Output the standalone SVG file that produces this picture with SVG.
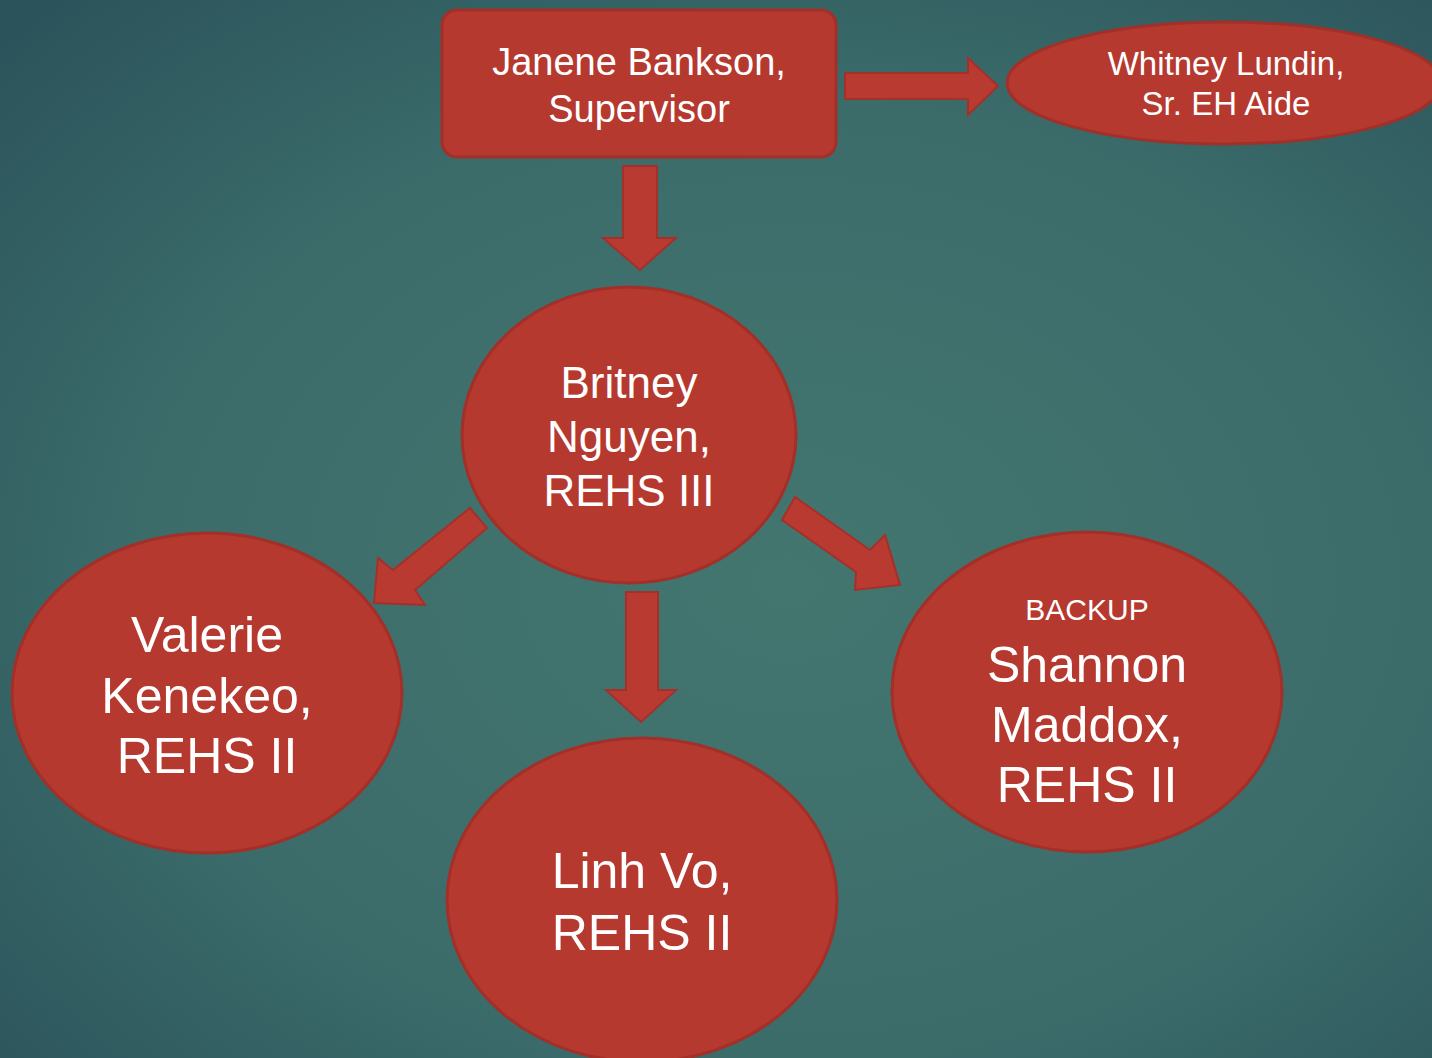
<svg xmlns="http://www.w3.org/2000/svg" width="1432" height="1058" viewBox="0 0 1432 1058">
<defs>
<radialGradient id="bg" cx="0.55" cy="0.55" r="0.75">
<stop offset="0" stop-color="#447670"/>
<stop offset="0.6" stop-color="#3b6c6a"/>
<stop offset="1" stop-color="#2b535b"/>
</radialGradient>
<style>
.shape{fill:#b5392f;stroke:#a32f29;stroke-width:3}
.arrow{fill:#b83a30;stroke:#a5302a;stroke-width:2}
text{font-family:"Liberation Sans","DejaVu Sans",sans-serif;fill:#ffffff;text-anchor:middle}
</style>
</defs>
<rect width="1432" height="1058" fill="url(#bg)"/>
<g id="connectors">
<polygon class="arrow" points="845,73 968,73 968,58 998,86 968,115 968,99 845,99"/>
<polygon class="arrow" points="623,166 657,166 657,238 676,238 640,270 603,238 623,238"/>
<polygon class="arrow" points="626,592 658,592 658,690 676,690 641,722 606,690 626,690"/>
<polygon class="arrow" points="470,508 487,528 415,590 425,605 374,603 378,558 393,570"/>
<polygon class="arrow" points="795,497 782,520 856,572 855,590 900,585 885,535 870,550"/>
</g>
<g id="janene">
<rect class="shape" x="442" y="10" width="394" height="147" rx="15"/>
<text x="639" y="75" font-size="38">Janene Bankson,</text>
<text x="639" y="122" font-size="38">Supervisor</text>
</g>
<g id="whitney">
<ellipse class="shape" cx="1224" cy="83" rx="217" ry="61"/>
<text x="1226" y="75" font-size="33">Whitney Lundin,</text>
<text x="1226" y="115" font-size="33">Sr. EH Aide</text>
</g>
<g id="britney">
<ellipse class="shape" cx="629" cy="435" rx="167" ry="148"/>
<text x="629" y="398" font-size="44">Britney</text>
<text x="629" y="452" font-size="44">Nguyen,</text>
<text x="629" y="506" font-size="44">REHS III</text>
</g>
<g id="valerie">
<ellipse class="shape" cx="207" cy="693" rx="195" ry="160"/>
<text x="207" y="652" font-size="50">Valerie</text>
<text x="207" y="713" font-size="50">Kenekeo,</text>
<text x="207" y="773" font-size="50">REHS II</text>
</g>
<g id="linh">
<ellipse class="shape" cx="642" cy="900" rx="195" ry="162"/>
<text x="642" y="888" font-size="50">Linh Vo,</text>
<text x="642" y="950" font-size="50">REHS II</text>
</g>
<g id="shannon">
<ellipse class="shape" cx="1087" cy="692" rx="195" ry="160"/>
<text x="1087" y="620" font-size="30">BACKUP</text>
<text x="1087" y="682" font-size="50">Shannon</text>
<text x="1087" y="742" font-size="50">Maddox,</text>
<text x="1087" y="802" font-size="50">REHS II</text>
</g>
</svg>
